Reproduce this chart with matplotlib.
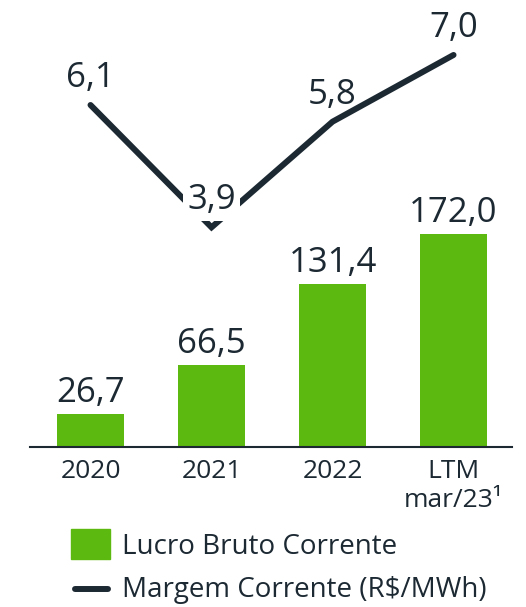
import matplotlib.pyplot as plt
import matplotlib.patches as mpatches
from matplotlib.lines import Line2D

plt.rcParams['font.family'] = ['Open Sans', 'DejaVu Sans']

# dados do gráfico
categorias = ['2020', '2021', '2022', 'LTM\nmar/23\u00b9']
lucro_bruto = [26.7, 66.5, 131.4, 172.0]
margem = [6.1, 3.9, 5.8, 7.0]

VERDE = '#5cb90f'
ESCURO = '#1c2933'

W, H = 526, 607
fig = plt.figure(figsize=(W / 100, H / 100), dpi=100)
fig.patch.set_facecolor('white')

# eixo das barras: ocupa do topo até a linha de base (y=447px)
ax = fig.add_axes([30 / W, (H - 447) / H, (512 - 30) / W, 447 / H])
x = range(len(categorias))
barras = ax.bar(x, lucro_bruto, width=0.555, color=VERDE, zorder=2)
ax.set_xlim(-0.5, 3.483)
ax.set_ylim(0, 447 / 1.24)

for xi, v in zip(x, lucro_bruto):
    ax.annotate(f'{v:.1f}'.replace('.', ','), (xi, v), xytext=(0, 15),
                textcoords='offset points', ha='center', va='center',
                fontsize=25, color=ESCURO)

for lado in ['top', 'right', 'left']:
    ax.spines[lado].set_visible(False)
ax.spines['bottom'].set_color(ESCURO)
ax.spines['bottom'].set_linewidth(1.5)
ax.set_yticks([])
ax.set_xticks(list(x))
ax.set_xticklabels(categorias, fontsize=19, color=ESCURO, linespacing=1.2)
ax.tick_params(axis='x', length=0, pad=9)
ax.patch.set_alpha(0)

# eixo secundário para a margem
ax2 = ax.twinx()
ax2.set_ylim(6.1 - (447 - 105) / 55.6, 6.1 + 105 / 55.6)
ax2.plot(list(x), margem, color=ESCURO, lw=4.3, solid_capstyle='round',
         solid_joinstyle='miter', zorder=3)
ax2.axis('off')

for xi, v in zip(x, margem):
    dy = 19.5
    bbox = None
    if v == 3.9:
        dy = 20
        bbox = dict(boxstyle='square,pad=0.12', fc='white', ec='none')
    ax2.annotate(f'{v:.1f}'.replace('.', ','), (xi, v), xytext=(0, dy),
                 textcoords='offset points', ha='center', va='center',
                 fontsize=25, color=ESCURO, bbox=bbox, zorder=5)

# legenda
fig.add_artist(mpatches.Rectangle((71 / W, 1 - 559 / H), 39 / W, 30 / H,
                                  transform=fig.transFigure, color=VERDE))
fig.add_artist(Line2D([75 / W, 108 / W], [1 - 589 / H, 1 - 589 / H],
                      transform=fig.transFigure, color=ESCURO, lw=4.3,
                      solid_capstyle='round'))
fig.text(122 / W, 1 - 547 / H, 'Lucro Bruto Corrente', fontsize=20,
         color=ESCURO, va='center', ha='left')
fig.text(122 / W, 1 - 590 / H, 'Margem Corrente (R$/MWh)', fontsize=20,
         color=ESCURO, va='center', ha='left')

fig.savefig('out.png', dpi=100)
